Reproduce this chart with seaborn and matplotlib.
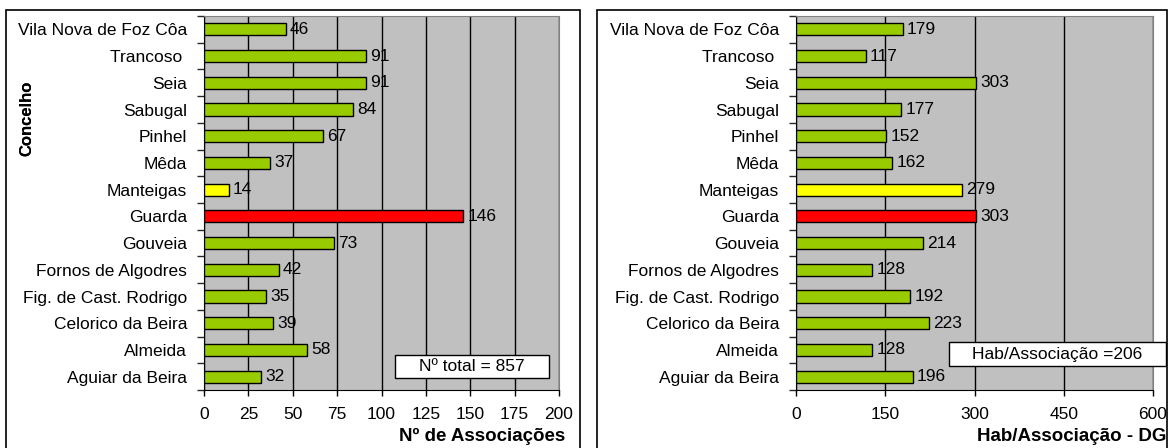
import matplotlib
matplotlib.use("Agg")
import numpy as np
import pandas as pd
import seaborn as sns
import matplotlib.pyplot as plt
from matplotlib.patches import Rectangle
from matplotlib.ticker import MultipleLocator

# data (top to bottom as drawn)
concelhos = ["Vila Nova de Foz Côa", "Trancoso ", "Seia", "Sabugal", "Pinhel", "Mêda",
             "Manteigas", "Guarda", "Gouveia", "Fornos de Algodres",
             "Fig. de Cast. Rodrigo", "Celorico da Beira", "Almeida", "Aguiar da Beira"]
n_assoc = [46, 91, 91, 84, 67, 37, 14, 146, 73, 42, 35, 39, 58, 32]
hab_assoc = [179, 117, 303, 177, 152, 162, 279, 303, 214, 128, 192, 223, 128, 196]

GREEN, YELLOW, RED = "#99CC00", "#FFFF00", "#FF0000"
bar_colors = [YELLOW if c == "Manteigas" else RED if c == "Guarda" else GREEN for c in concelhos]

sns.set_style("white")
plt.rcParams["font.family"] = ["Liberation Sans", "DejaVu Sans"]
plt.rcParams["text.color"] = "black"
plt.rcParams["axes.labelcolor"] = "black"

W, H = 1169, 448
FS = 12.5
fig = plt.figure(figsize=(W / 100, H / 100), dpi=100)


def panel(x0, x1, values, xmax, step, xlabel, label_right, note, note_box):
    ax = fig.add_axes([x0 / W, (H - 390) / H, (x1 - x0) / W, (390 - 16) / H])
    df = pd.DataFrame({"concelho": concelhos, "valor": values})
    sns.barplot(data=df, x="valor", y="concelho", hue="concelho", palette=bar_colors,
                legend=False, orient="h", width=0.45, saturation=1, edgecolor="black",
                linewidth=1, ax=ax, zorder=3)
    ax.set_facecolor("#C0C0C0")
    ax.set_xlim(0, xmax)
    ax.set_ylim(len(concelhos) - 0.5, -0.5)
    ax.xaxis.set_major_locator(MultipleLocator(step))
    ax.grid(axis="x", color="black", linewidth=1, zorder=1)
    ax.set_axisbelow(True)
    for s in ["top", "right"]:
        ax.spines[s].set_color("#808080")
    for s in ["left", "bottom"]:
        ax.spines[s].set_color("black")
    ax.tick_params(axis="x", length=4, width=1, direction="out", bottom=True,
                   labelsize=FS, pad=8, colors="black")
    ax.tick_params(axis="y", length=0, labelsize=FS, pad=12, colors="black")
    ax.set_yticks(np.arange(len(concelhos) + 1) - 0.5, minor=True)
    ax.tick_params(axis="y", which="minor", length=5, width=1, direction="out", left=True)
    for i, v in enumerate(values):
        ax.text(v + xmax * 0.012, i, str(v), va="center", ha="left", fontsize=FS, zorder=4)
    ax.set_xlabel(xlabel, fontsize=13.5, fontweight="bold", loc="right")
    ax.xaxis.set_label_coords((label_right - x0) / (x1 - x0), (390 - 428) / 374)
    ax.set_ylabel("Concelho", fontsize=12, fontweight="bold")
    ax.yaxis.set_label_coords(-(x0 - 34) / (x1 - x0), 0.727)
    bx0, by0, bx1, by1 = note_box
    fig.patches.append(Rectangle((bx0 / W, 1 - by1 / H), (bx1 - bx0) / W, (by1 - by0) / H,
                                 transform=fig.transFigure, facecolor="white",
                                 edgecolor="black", linewidth=1, zorder=5))
    fig.text((bx0 + bx1) / 2 / W, 1 - (by0 + by1) / 2 / H, note, ha="center", va="center",
             fontsize=FS, zorder=6)
    return ax


panel(204, 559, n_assoc, 200, 25, "Nº de Associações", 565,
      "Nº total = 857", (395, 355, 549, 378))
panel(796, 1153, hab_assoc, 600, 150, "Hab/Associação - DG", 1166,
      "Hab/Associação =206", (949, 342, 1166, 366))

# panel frames
for fx0, fx1 in [(6, 580), (597, 1167)]:
    fig.patches.append(Rectangle((fx0 / W, -0.05), (fx1 - fx0) / W, 1.05 - 10 / H,
                                 transform=fig.transFigure, facecolor="none",
                                 edgecolor="black", linewidth=1.2, zorder=0))

fig.savefig("out.png", dpi=100)
